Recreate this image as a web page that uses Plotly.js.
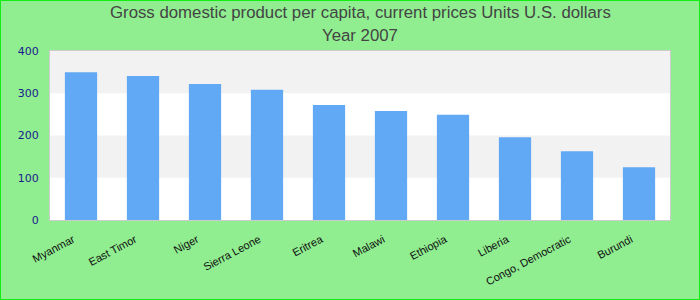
<!DOCTYPE html>
<html>
<head>
<meta charset="utf-8">
<script src="https://cdn.plot.ly/plotly-3.0.1.min.js"></script>
<style>
html,body{margin:0;padding:0;background:#90ee90;}
#frame{width:700px;height:300px;box-sizing:border-box;border:1px solid #11ee11;}
#chart{width:698px;height:298px;}
</style>
</head>
<body>
<div id="frame"><div id="chart"></div></div>
<script>
var countries = ["Myanmar","East Timor","Niger","Sierra Leone","Eritrea","Malawi","Ethiopia","Liberia","Congo, Democratic","Burundi"];
var gdpPerCapita = [350, 341, 322, 308, 272, 258, 249, 196, 163, 125];
var yTicks = [0, 100, 200, 300, 400];
var titleLines = ["Gross domestic product per capita, current prices Units U.S. dollars", "Year 2007"];

var bands = [];
for (var i = 0; i < yTicks.length - 1; i++) {
  if (i % 2 === 1) {
    bands.push({type:'rect', xref:'paper', yref:'y', x0:0, x1:1, y0:yTicks[i], y1:yTicks[i+1],
      fillcolor:'#f2f2f2', line:{width:0}, layer:'below'});
  }
}

var titleFont = {family:'Liberation Sans, Arial, sans-serif', size:16.8, color:'#444444'};
var annotations = [
  {text:titleLines[0], xref:'paper', yref:'paper', x:0.5, y:1.225, xanchor:'center', yanchor:'middle', showarrow:false, font:titleFont},
  {text:titleLines[1], xref:'paper', yref:'paper', x:0.5, y:1.089, xanchor:'center', yanchor:'middle', showarrow:false, font:titleFont}
];

var trace = {
  type:'bar', x:countries, y:gdpPerCapita,
  marker:{color:'#62a9f5', line:{width:0}},
  hoverinfo:'x+y'
};

var layout = {
  width:698, height:298,
  paper_bgcolor:'#90ee90', plot_bgcolor:'#ffffff',
  margin:{l:49, r:29, t:50, b:79},
  bargap:0.48,
  xaxis:{type:'category', tickangle:-28, tickfont:{family:'Liberation Sans, Arial, sans-serif', size:11, color:'#111111'},
    showline:true, mirror:true, linecolor:'#cccccc', linewidth:1, showgrid:false, zeroline:false,
    ticks:'', automargin:false, ticklabelstandoff:8, ticklabelshift:-8},
  yaxis:{range:[0,400], tickvals:yTicks, ticktext:yTicks.map(String),
    tickfont:{family:'DejaVu Sans, sans-serif', size:11, color:'#1a1a8c'},
    showline:true, mirror:true, linecolor:'#cccccc', linewidth:1, showgrid:false, zeroline:false,
    ticks:'outside', ticklen:8, tickcolor:'rgba(0,0,0,0)', automargin:false},
  shapes:bands,
  annotations:annotations,
  showlegend:false
};

Plotly.newPlot('chart', [trace], layout, {displayModeBar:false, staticPlot:true});
</script>
</body>
</html>
